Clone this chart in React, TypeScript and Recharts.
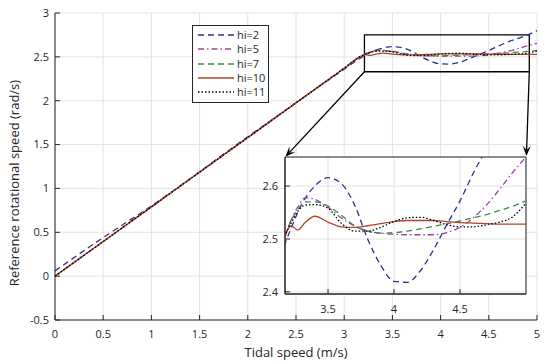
import React from 'react';
import {
  LineChart, Line, XAxis, YAxis, CartesianGrid,
  ReferenceArea, ReferenceLine, Legend
} from 'recharts';

// tidal speed samples (m/s)
const tidalSpeed = [0, 0.5, 1, 2, 3, 3.17, 3.22, 3.27, 3.33, 3.4, 3.5, 3.6, 3.7, 3.8, 3.9, 4.0, 4.1, 4.2, 4.3, 4.4, 4.5, 4.6, 4.7, 4.8, 4.9, 5.0];

// reference rotational speed (rad/s) for each hi
const hi2 = [0.06, 0.44, 0.8, 1.59, 2.36, 2.489, 2.52, 2.55, 2.578, 2.6, 2.616, 2.605, 2.565, 2.5, 2.45, 2.42, 2.418, 2.44, 2.48, 2.527, 2.572, 2.624, 2.67, 2.71, 2.75, 2.8];
const hi5 = [0, 0.395, 0.79, 1.58, 2.37, 2.501, 2.535, 2.56, 2.578, 2.575, 2.56, 2.54, 2.525, 2.515, 2.511, 2.509, 2.508, 2.508, 2.508, 2.512, 2.522, 2.54, 2.564, 2.594, 2.626, 2.655];
const hi7 = [0, 0.395, 0.79, 1.58, 2.37, 2.505, 2.535, 2.556, 2.57, 2.57, 2.562, 2.545, 2.525, 2.515, 2.511, 2.512, 2.515, 2.519, 2.524, 2.529, 2.534, 2.54, 2.546, 2.554, 2.562, 2.572];
const hi10 = [0, 0.395, 0.79, 1.58, 2.37, 2.505, 2.525, 2.517, 2.532, 2.543, 2.532, 2.523, 2.522, 2.525, 2.529, 2.533, 2.535, 2.535, 2.535, 2.533, 2.531, 2.53, 2.529, 2.528, 2.528, 2.528];
const hi11 = [0, 0.395, 0.79, 1.58, 2.37, 2.505, 2.53, 2.552, 2.564, 2.565, 2.558, 2.53, 2.515, 2.515, 2.522, 2.533, 2.54, 2.541, 2.535, 2.527, 2.523, 2.523, 2.527, 2.532, 2.542, 2.568];

const xTicks = [0, 0.5, 1, 1.5, 2, 2.5, 3, 3.5, 4, 4.5, 5];
const yTicks = [-0.5, 0, 0.5, 1, 1.5, 2, 2.5, 3];
const insetXTicks = [3.5, 4, 4.5];
const insetYTicks = [2.4, 2.5, 2.6];
const insetX = [3.174, 5.0];
const insetY = [2.396, 2.655];

const rows = tidalSpeed.map((x, i) => ({
  x, hi2: hi2[i], hi5: hi5[i], hi7: hi7[i], hi10: hi10[i], hi11: hi11[i],
}));

const series = [
  { key: 'hi2', name: 'hi=2', color: '#2e3192', dash: '6 4' },
  { key: 'hi5', name: 'hi=5', color: '#a23ca2', dash: '6 3 1.5 3' },
  { key: 'hi7', name: 'hi=7', color: '#3f8a4c', dash: '6 4' },
  { key: 'hi10', name: 'hi=10', color: '#b0442a', dash: undefined },
  { key: 'hi11', name: 'hi=11', color: '#000000', dash: '1.5 2' },
];

const AXIS = '#262626';
const GRID = '#e2e2e2';
const tickStyle = { fill: AXIS, fontSize: 11 };
const blank = () => '';

const Arrow = (p: any) => {
  const { x1, y1, x2, y2 } = p;
  const a = Math.atan2(y2 - y1, x2 - x1);
  const L = 11;
  const w = 0.38;
  const left = [x2 - L * Math.cos(a - w), y2 - L * Math.sin(a - w)];
  const right = [x2 - L * Math.cos(a + w), y2 - L * Math.sin(a + w)];
  const notch = [x2 - L * 0.55 * Math.cos(a), y2 - L * 0.55 * Math.sin(a)];
  return (
    <g>
      <line x1={x1} y1={y1} x2={notch[0]} y2={notch[1]} stroke="#000" strokeWidth={1.3} />
      <polygon
        points={`${x2},${y2} ${left[0]},${left[1]} ${notch[0]},${notch[1]} ${right[0]},${right[1]}`}
        fill="#000"
      />
    </g>
  );
};

const LegendBox = () => (
  <div style={{
    border: `1px solid ${AXIS}`, background: '#fff', width: 77,
    padding: '2px 0 3px 0', boxSizing: 'border-box',
  }}>
    {series.map(s => (
      <div key={s.key} style={{ display: 'flex', alignItems: 'center', height: 14.3 }}>
        <svg width={44} height={10} style={{ flex: 'none' }}>
          <line x1={5} y1={5} x2={41} y2={5} stroke={s.color} strokeWidth={1.3} strokeDasharray={s.dash} />
        </svg>
        <span style={{ fontSize: 11, color: AXIS, lineHeight: '14px' }}>{s.name}</span>
      </div>
    ))}
  </div>
);

const YTitle = (p: any) => {
  const cx = 16;
  const cy = 183;
  return (
    <text x={cx} y={cy} transform={`rotate(-90 ${cx} ${cy})`} textAnchor="middle"
      dominantBaseline="middle" fill={AXIS} fontSize={13}>
      {p.value}
    </text>
  );
};

const renderLines = () => series.map(s => (
  <Line
    key={s.key}
    type="monotone"
    dataKey={s.key}
    name={s.name}
    stroke={s.color}
    strokeWidth={1.3}
    strokeDasharray={s.dash}
    dot={false}
    activeDot={false}
    isAnimationActive={false}
  />
));

export default function App() {
  return (
    <div style={{ position: 'fixed', left: 0, top: 0, width: 550, height: 364, background: '#fff', fontFamily: "'Open Sans', sans-serif" }}>
      <LineChart width={550} height={364} data={rows} margin={{ top: 13, right: 13, bottom: 0, left: 0 }}>
        <CartesianGrid stroke={GRID} />
        <XAxis
          dataKey="x" type="number" domain={[0, 5]} ticks={xTicks}
          height={44} tickSize={-5} tickMargin={15}
          stroke={AXIS} tick={tickStyle}
          label={{ value: 'Tidal speed (m/s)', position: 'insideBottom', offset: 7, fill: AXIS, fontSize: 13 }}
        />
        <XAxis xAxisId="top" orientation="top" type="number" domain={[0, 5]} ticks={xTicks}
          height={0} tickSize={-5} tickFormatter={blank} stroke={AXIS} />
        <YAxis
          type="number" domain={[-0.5, 3]} ticks={yTicks} width={55}
          tickSize={-5} tickMargin={11} stroke={AXIS} tick={tickStyle}
          label={{ value: 'Reference rotational speed (rad/s)', content: YTitle }}
        />
        <YAxis yAxisId="right" orientation="right" type="number" domain={[-0.5, 3]} ticks={yTicks}
          width={0} tickSize={-5} tickFormatter={blank} stroke={AXIS} />
        {renderLines()}
        <ReferenceArea x1={3.21} x2={4.92} y1={2.33} y2={2.75} fill="none" stroke="#000" strokeWidth={1.3} />
        <ReferenceLine segment={[{ x: 3.21, y: 2.33 }, { x: 2.39, y: 1.36 }]} shape={Arrow} />
        <ReferenceLine segment={[{ x: 4.92, y: 2.33 }, { x: 4.89, y: 1.37 }]} shape={Arrow} />
        <Legend
          layout="vertical" align="center" verticalAlign="middle"
          content={LegendBox}
          wrapperStyle={{ left: 192, top: 25, width: 'auto', height: 'auto' }}
        />
      </LineChart>

      <div style={{ position: 'absolute', left: 240, top: 150 }}>
        <LineChart width={296} height={170} data={rows} margin={{ top: 7, right: 10, bottom: 0, left: 0 }}>
          <CartesianGrid stroke={GRID} fill="#fff" />
          <XAxis
            dataKey="x" type="number" domain={insetX} ticks={insetXTicks} allowDataOverflow
            height={26} tickSize={-5} tickMargin={16} stroke={AXIS} tick={tickStyle}
          />
          <XAxis xAxisId="top" orientation="top" type="number" domain={insetX} ticks={insetXTicks}
            allowDataOverflow height={0} tickSize={-5} tickFormatter={blank} stroke={AXIS} />
          <YAxis
            type="number" domain={insetY} ticks={insetYTicks} allowDataOverflow width={45}
            tickSize={-5} tickMargin={12} stroke={AXIS} tick={tickStyle}
          />
          <YAxis yAxisId="right" orientation="right" type="number" domain={insetY} ticks={insetYTicks}
            allowDataOverflow width={0} tickSize={-5} tickFormatter={blank} stroke={AXIS} />
          {renderLines()}
          <ReferenceArea x1={insetX[0]} x2={insetX[1]} y1={insetY[0]} y2={insetY[1]}
            fill="none" stroke={AXIS} strokeWidth={1} />
        </LineChart>
      </div>
    </div>
  );
}
